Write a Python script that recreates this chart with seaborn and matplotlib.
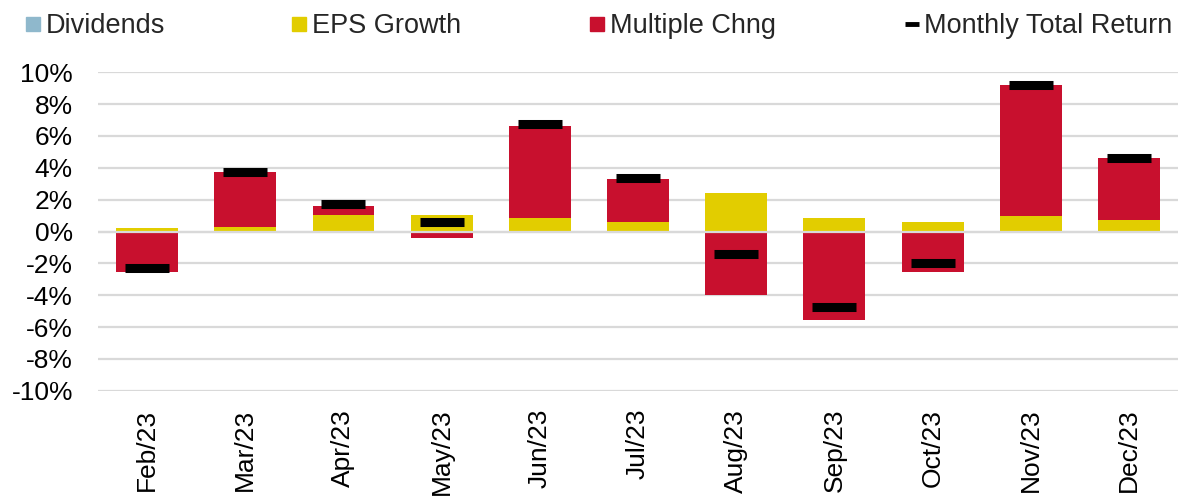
import numpy as np
import matplotlib
matplotlib.use("Agg")
import matplotlib.pyplot as plt
from matplotlib.lines import Line2D
import seaborn as sns

# Monthly return attribution (percent)
months = ["Feb/23", "Mar/23", "Apr/23", "May/23", "Jun/23", "Jul/23",
          "Aug/23", "Sep/23", "Oct/23", "Nov/23", "Dec/23"]
dividends = [0.0, 0.0, 0.0, 0.0, 0.0, 0.0, 0.0, 0.0, 0.0, 0.0, 0.0]
eps_growth = [0.2, 0.26, 1.02, 1.02, 0.87, 0.58, 2.44, 0.87, 0.58, 1.0, 0.7]
multiple_chng = [-2.57, 3.48, 0.58, -0.43, 5.73, 2.72, -4.01, -5.59, -2.57, 8.21, 3.9]
total_return = [-2.3, 3.76, 1.75, 0.6, 6.78, 3.35, -1.44, -4.73, -2.0, 9.23, 4.62]
y_ticks = [-10, -8, -6, -4, -2, 0, 2, 4, 6, 8, 10]

C_DIV = "#8FB8CC"
C_EPS = "#E2CD00"
C_MULT = "#C8102E"
C_GRID = "#D9D9D9"

sns.set_theme(style="white")
plt.rcParams["font.family"] = ["Liberation Sans", "DejaVu Sans"]

fig = plt.figure(figsize=(11.79, 4.96), dpi=100)
ax = fig.add_axes([0.0831, 0.2123, 0.9161, 0.6419])

div = np.array(dividends)
eps = np.array(eps_growth)
mult = np.array(multiple_chng)

bar_w = 0.63
bar_kw = dict(order=months, width=bar_w, errorbar=None, saturation=1,
              linewidth=0, ax=ax, zorder=2)
sns.barplot(x=months, y=dividends, color=C_DIV, **bar_kw)
sns.barplot(x=months, y=eps_growth, color=C_EPS, bottom=div, **bar_kw)
mult_base = np.where(mult >= 0, div + eps, 0.0)
sns.barplot(x=months, y=multiple_chng, color=C_MULT, bottom=mult_base, **bar_kw)

# zero line sits over the bar bases
ax.axhline(0, color=C_GRID, lw=1.6, zorder=2.5)

sns.pointplot(x=months, y=total_return, order=months, linestyle="none",
              marker="_", markersize=31, markeredgewidth=6.5, color="black",
              errorbar=None, ax=ax, zorder=3)

ax.set_ylim(-10, 10)
ax.set_xlim(-0.5, len(months) - 0.5)
ax.set_yticks(y_ticks)
ax.set_yticklabels([f"{v}%" for v in y_ticks])
ax.yaxis.grid(True, color=C_GRID, lw=1.6)
ax.set_axisbelow(True)
for s in ax.spines.values():
    s.set_visible(False)
ax.tick_params(axis="y", length=0, pad=18, labelsize=19, colors="black")
ax.tick_params(axis="x", length=0, pad=13, labelsize=19, labelrotation=90,
               colors="black")
ax.set_xlabel("")
ax.set_ylabel("")

# Legend: four entries laid out across the top
fs = 19.5
em = fs * 100 / 72.0
W, H = 1179.0, 496.0
yc = 1 - 26 / H
entries = [
    (Line2D([], [], linestyle="none", marker="s", markersize=10,
            markerfacecolor=C_DIV, markeredgecolor=C_DIV), "Dividends", 33, 0.6),
    (Line2D([], [], linestyle="none", marker="s", markersize=10,
            markerfacecolor=C_EPS, markeredgecolor=C_EPS), "EPS Growth", 299, 0.6),
    (Line2D([], [], linestyle="none", marker="s", markersize=10,
            markerfacecolor=C_MULT, markeredgecolor=C_MULT), "Multiple Chng", 597, 0.6),
    (Line2D([], [], color="black", lw=3.5, solid_capstyle="butt"),
     "Monthly Total Return", 912, 0.55),
]
for handle, label, cx, hl in entries:
    left = cx - hl * em / 2
    fig.legend([handle], [label], loc="center left",
               bbox_to_anchor=(left / W, yc), frameon=False, fontsize=fs,
               handlelength=hl, handletextpad=0.17, borderpad=0,
               borderaxespad=0)

fig.savefig("out.png", dpi=100)
